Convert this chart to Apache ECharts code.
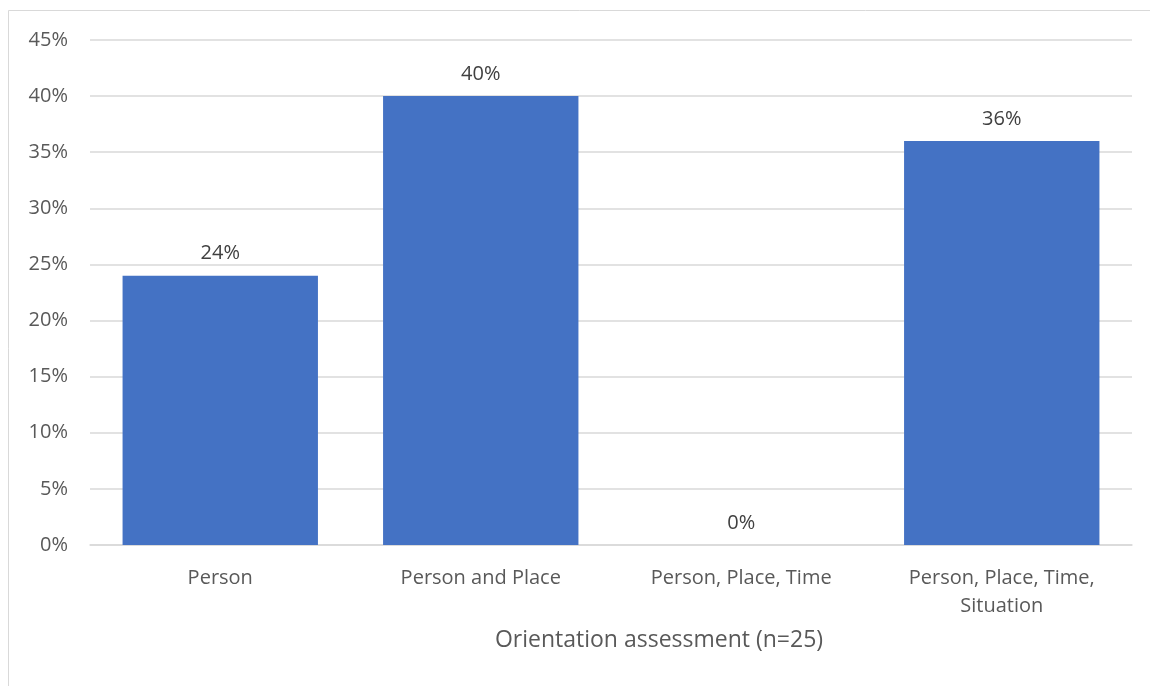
<!DOCTYPE html>
<html>
<head>
<meta charset="utf-8">
<script src="https://cdn.jsdelivr.net/npm/echarts@6/dist/echarts.min.js"></script>
<style>
  html, body { margin: 0; padding: 0; background: #fff; }
  #chart { width: 1150px; height: 686px; }
</style>
</head>
<body>
<div id="chart"></div>
<script>
// Orientation assessment results, percent of respondents
const categories = ['Person', 'Person and Place', 'Person, Place, Time', 'Person, Place, Time,\nSituation'];
const percentValues = [24, 40, 0, 36];
const axisTitle = 'Orientation assessment (n=25)';

const font = '"Open Sans", "Noto Sans", sans-serif';
const chart = echarts.init(document.getElementById('chart'));

chart.setOption({
  animation: false,
  backgroundColor: '#ffffff',
  graphic: [{
    type: 'rect',
    shape: { x: 8.5, y: 10.5, width: 1160, height: 700 },
    style: { fill: 'none', stroke: '#d9d9d9', lineWidth: 1 },
    silent: true
  }],
  grid: { left: 90, right: 18, top: 40, bottom: 141 },
  xAxis: {
    type: 'category',
    data: categories,
    name: axisTitle,
    nameLocation: 'middle',
    nameGap: 84,
    nameTextStyle: {
      fontFamily: font, fontSize: 23, color: '#595959',
      padding: [0, 0, 0, 96]
    },
    axisLine: { lineStyle: { color: '#d9d9d9', width: 1.5 } },
    axisTick: { show: false },
    axisLabel: {
      fontFamily: font, fontSize: 20, color: '#595959',
      margin: 19, lineHeight: 28, interval: 0
    }
  },
  yAxis: {
    type: 'value',
    min: 0, max: 45, interval: 5,
    axisLine: { show: false },
    axisTick: { show: false },
    splitLine: { lineStyle: { color: '#d9d9d9', width: 1.5 } },
    axisLabel: {
      fontFamily: font, fontSize: 20, color: '#595959', margin: 22,
      formatter: v => v + '%'
    }
  },
  series: [{
    type: 'bar',
    data: percentValues,
    barCategoryGap: '25%',
    itemStyle: { color: '#4472c4' },
    label: {
      show: true, position: 'top', distance: 12,
      fontFamily: font, fontSize: 20, color: '#404040',
      formatter: p => p.value + '%'
    }
  }]
});
</script>
</body>
</html>
